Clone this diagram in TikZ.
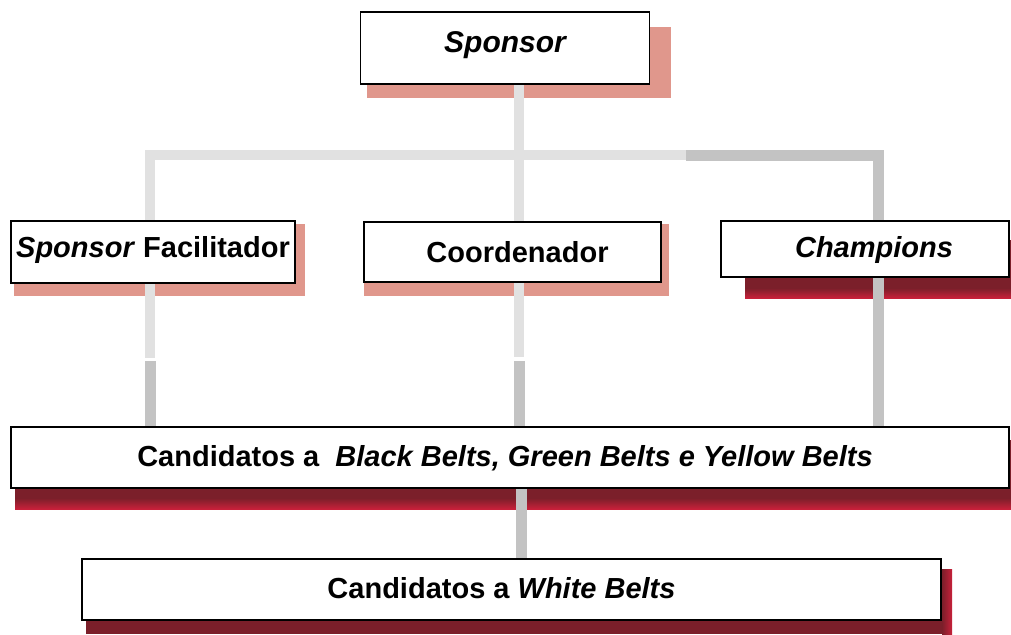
\documentclass[tikz,border=0pt]{standalone}
\usepackage{fontspec}
\setmainfont{Liberation Sans}
\usetikzlibrary{positioning,backgrounds}

\definecolor{lightbar}{HTML}{E1E1E1}
\definecolor{darkbar}{HTML}{C3C3C3}
\definecolor{pinkshadow}{HTML}{E0978C}
\definecolor{redshadow}{HTML}{7B1F2A}
\definecolor{redglow}{HTML}{C8203A}

\tikzset{
  box/.style={draw=black, line width=1.4pt, fill=white, inner sep=0pt,
    font=\fontsize{29}{34}\selectfont\bfseries, text height=21pt, text depth=0pt},
  pinkshade/.style={fill=pinkshadow},
  redshade/.style={fill=redshadow},
  rededge/.style={top color=redshadow, bottom color=redglow},
  redside/.style={left color=redshadow, right color=redglow},
  lightline/.style={draw=lightbar, line width=10pt},
  darkline/.style={draw=darkbar, line width=11pt},
}

\begin{document}
\begin{tikzpicture}[x=1pt,y=-1pt]
  \useasboundingbox (0,0) rectangle (1011,634);

  % boxes
  \node[box, minimum width=289pt, minimum height=72pt, text depth=12pt,
    font=\fontsize{30}{36}\selectfont\bfseries] (spon) at (505,48) {\itshape Sponsor};
  \node[box, minimum width=284pt, minimum height=62pt, text depth=10pt] (fac) at (153,252) {\textit{Sponsor} Facilitador};
  \node[box, minimum width=297pt, minimum height=60pt] (coord) at (512.5,252) {\hspace*{10pt}Coordenador};
  \node[box, minimum width=288pt, minimum height=56pt, text depth=4pt] (champ) at (865,249) {\hspace*{18pt}\itshape Champions};
  \node[box, minimum width=998pt, minimum height=61pt, text depth=4pt] (cand) at (510,457.5)
    {Candidatos a\ \ \textit{Black Belts, Green Belts e Yellow Belts}\hspace*{10pt}};
  \node[box, minimum width=859pt, minimum height=61pt, text depth=3pt] (white) at (511.5,589.5)
    {Candidatos a \textit{White Belts}\hspace*{20pt}};

  \coordinate (busL) at (150,155);
  \coordinate (busM) at (519,155);
  \coordinate (busS) at (686,155);
  \coordinate (busR) at (878,155);
  \coordinate (busB) at (521,520);

  \begin{scope}[on background layer]
    % shadows
    \fill[pinkshade] (367,27) rectangle (671,98);
    \fill[pinkshade] (14,224) rectangle (305,296);
    \fill[pinkshade] (364,224) rectangle (669,296);
    \fill[redshade] (745,240) rectangle (1011,298);
    \shade[rededge] (745,288) rectangle (1011,298);
    \fill[redshade] (15,440) rectangle (1011,509);
    \shade[rededge] (15,498) rectangle (1011,509);
    \fill[redshade] (86,569) rectangle (952,634);
    \shade[redside] (942,569) rectangle (952,634);
    % connectors
    \draw[lightline] (busM |- spon.south) -- (busM |- coord.north);
    \draw[lightline] (busL |- fac.north) -- (busL) -- (busS);
    \draw[darkline] (busS) -- (busR) -- (busR |- champ.north);
    \draw[lightline] (busL |- fac.south) -- ++(0,74);
    \draw[darkline] (busL |- cand.north) -- ++(0,-65);
    \draw[lightline] (busM |- coord.south) -- ++(0,74);
    \draw[darkline] (busM |- cand.north) -- ++(0,-65);
    \draw[darkline] (busR |- champ.south) -- (busR |- cand.north);
    \draw[darkline] (busB |- cand.south) -- (busB |- white.north);
  \end{scope}
\end{tikzpicture}
\end{document}
